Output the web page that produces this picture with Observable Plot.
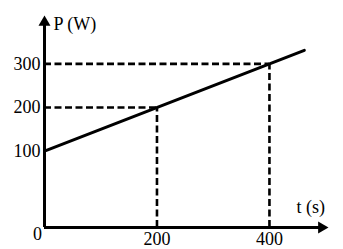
<!DOCTYPE html>
<html>
<head>
<meta charset="utf-8">
<script src="https://cdn.jsdelivr.net/npm/d3@7"></script>
<script src="https://cdn.jsdelivr.net/npm/@observablehq/plot@0.6"></script>
<style>
  html, body { margin: 0; padding: 0; background: #fff; }
  svg { display: block; }
</style>
</head>
<body>
<div id="chart"></div>
<script>
// Data
const tTicks = [200, 400];            // x tick labels (s)
const pTicks = [100, 200, 300];       // y tick labels (W)
const lineT = [0, 462];               // line t values
const lineP = [100, 331];             // line P values
const markT = [200, 400];             // marked points t
const markP = [200, 300];             // marked points P
const xLabel = "t (s)";
const yLabel = "P (W)";
const originLabel = "0";

const tMax = 505, pMax = 411, pMin = -75;
const font = "Liberation Serif, Times New Roman, serif";
const fs = 18;

const line = lineT.map((t, i) => ({t, p: lineP[i]}));
const marks = markT.map((t, i) => ({t, p: markP[i]}));

const chart = Plot.plot({
  width: 343,
  height: 249,
  marginLeft: 44,
  marginRight: 15,
  marginTop: 15,
  marginBottom: 22,
  style: {fontFamily: font, background: "#fff", color: "#000"},
  x: {domain: [0, tMax]},
  y: {domain: [pMin, pMax]},
  marks: [
    // dashed guides
    Plot.ruleY(marks, {y: "p", x1: 0, x2: "t", stroke: "#000", strokeWidth: 2.6, strokeDasharray: "7,3.5"}),
    Plot.ruleX(marks, {x: "t", y1: pMin, y2: "p", stroke: "#000", strokeWidth: 2.6, strokeDasharray: "7,3.5"}),
    // axes lines
    Plot.ruleX([0], {y1: pMin, y2: pMax - 12, stroke: "#000", strokeWidth: 3}),
    Plot.ruleY([pMin], {x1: 0, x2: tMax - 12, stroke: "#000", strokeWidth: 3}),
    // arrow heads
    Plot.dot([0], {x: 0, y: pMax, symbol: "triangle", r: 4.45, fill: "#000", stroke: "none", dy: 6.9}),
    Plot.dot([0], {x: tMax, y: pMin, symbol: "triangle", r: 4.45, fill: "#000", stroke: "none", rotate: 90, dx: -6.9}),
    // main line
    Plot.line(line, {x: "t", y: "p", stroke: "#000", strokeWidth: 3}),
    // tick labels
    Plot.axisY(pTicks, {tickSize: 0, tickPadding: 4, fontSize: fs, fontFamily: font, label: null, fill: "#000"}),
    Plot.axisX(tTicks, {tickSize: 0, tickPadding: 5, fontSize: fs, fontFamily: font, label: null, fill: "#000"}),
    Plot.text([originLabel], {x: 0, y: pMin, dx: -7, dy: 7, fontSize: fs, fontFamily: font, fill: "#000"}),
    // axis titles
    Plot.text([yLabel], {x: 0, y: pMax, dx: 9, dy: 9, textAnchor: "start", fontSize: fs, fontFamily: font, fill: "#000"}),
    Plot.text([xLabel], {x: tMax, y: pMin, dx: -32, dy: -20, textAnchor: "start", fontSize: fs, fontFamily: font, fill: "#000"})
  ]
});
document.getElementById("chart").appendChild(chart);
</script>
</body>
</html>
